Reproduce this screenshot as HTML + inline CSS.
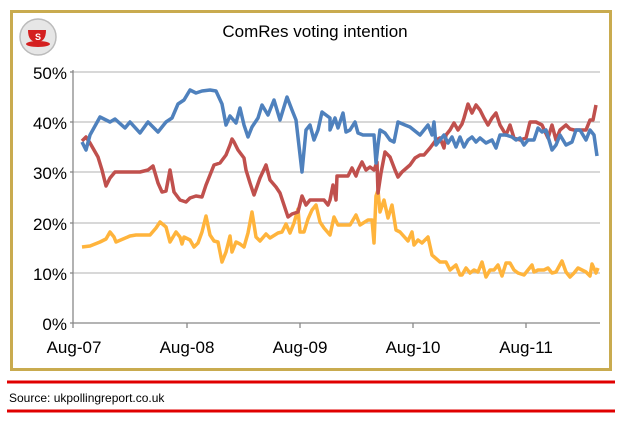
<!DOCTYPE html>
<html><head><style>
body{margin:0;background:#fff;width:620px;height:421px;overflow:hidden;font-family:"Liberation Sans",sans-serif}
</style></head><body>
<svg width="620" height="421" xmlns="http://www.w3.org/2000/svg" font-family="Liberation Sans, sans-serif">
<rect x="11.5" y="11.5" width="599" height="358" fill="#fff" stroke="#C9AB4F" stroke-width="3"/>
<line x1="7" y1="382" x2="615" y2="382" stroke="#E00000" stroke-width="3"/>
<line x1="7" y1="411" x2="615" y2="411" stroke="#E00000" stroke-width="3"/>
<text x="9" y="402" font-size="12" fill="#000">Source: ukpollingreport.co.uk</text>
<circle cx="38" cy="37" r="18" fill="#e6e6e6" stroke="#bbb" stroke-width="1.5"/>
<path d="M28 30 h18 q0 12 -9 12 q-9 0 -9 -12z" fill="#D42020"/>
<ellipse cx="38" cy="44" rx="12" ry="3" fill="#D42020"/>
<text x="38" y="40" font-size="9" fill="#fff" text-anchor="middle" font-weight="bold">S</text>
<text x="315" y="37" font-size="17" text-anchor="middle" fill="#000">ComRes voting intention</text>
<g stroke="#C0C0C0" stroke-width="1.3">
<line x1="73" y1="72" x2="600" y2="72"/><line x1="73" y1="122" x2="600" y2="122"/>
<line x1="73" y1="172" x2="600" y2="172"/><line x1="73" y1="223" x2="600" y2="223"/>
<line x1="73" y1="273" x2="600" y2="273"/></g>
<g stroke="#888" stroke-width="1.3">
<line x1="70" y1="323" x2="600" y2="323"/><line x1="73" y1="70" x2="73" y2="328"/>
<line x1="187" y1="323" x2="187" y2="328"/><line x1="300" y1="323" x2="300" y2="328"/>
<line x1="413" y1="323" x2="413" y2="328"/><line x1="526" y1="323" x2="526" y2="328"/>
<line x1="70" y1="72" x2="73" y2="72"/><line x1="70" y1="122" x2="73" y2="122"/><line x1="70" y1="172" x2="73" y2="172"/><line x1="70" y1="223" x2="73" y2="223"/><line x1="70" y1="273" x2="73" y2="273"/></g>
<g font-size="17" text-anchor="end" fill="#000">
<text x="67" y="79">50%</text><text x="67" y="129">40%</text><text x="67" y="179">30%</text><text x="67" y="230">20%</text><text x="67" y="280">10%</text><text x="67" y="330">0%</text></g>
<g font-size="17" text-anchor="middle" fill="#000">
<text x="74" y="353">Aug-07</text><text x="187" y="353">Aug-08</text><text x="300" y="353">Aug-09</text><text x="413" y="353">Aug-10</text><text x="526" y="353">Aug-11</text></g>
<g fill="none" stroke-width="3.5" stroke-linejoin="round">
<polyline stroke="#FFB43C" points="82,247 90,246 100,242 106,239 110,232 114,237 116,242 130,236 136,235 150,235 156,228 160,222 166,227 170,242 176,232 180,237 182,244 184,237 190,240 194,247 198,243 202,232 206,216 210,235 214,241 218,242 222,262 226,252 230,236 232,252 236,242 240,244 244,247 248,233 252,212 256,237 260,241 266,234 270,238 278,233 282,232 286,224 290,233 294,223 298,209 300,232 304,232 308,219 312,210 316,205 320,222 324,228 330,235 334,217 338,225 350,225 356,215 360,225 368,220 372,220 374,243 376,196 378,190 380,212 384,200 388,218 392,205 396,230 400,232 408,241 412,232 414,245 418,240 422,243 428,237 432,255 440,262 446,262 450,270 456,265 460,275 462,275 466,268 470,273 474,270 478,272 482,262 486,277 490,270 494,270 498,265 502,276 506,263 510,263 514,270 518,273 524,275 528,270 532,265 534,272 538,270 544,270 548,268 552,273 556,272 562,261 566,272 570,277 574,273 578,268 582,270 586,272 590,276 592,264 596,273 598,268"/>
<polyline stroke="#C0504D" points="82,141 86,137 90,143 94,150 98,157 102,170 106,186 110,178 115,172 140,172 148,170 153,166 158,183 162,192 166,191 170,170 174,192 180,200 186,202 190,198 196,196 202,197 206,185 210,175 214,165 220,163 226,155 230,145 232,139 234,142 238,150 244,158 246,170 250,183 254,195 260,178 266,165 270,180 276,187 280,193 284,205 288,217 292,214 298,212 302,196 306,205 310,200 324,200 328,205 330,200 333,185 336,200 337,176 348,176 352,168 356,176 358,170 362,162 366,170 370,167 374,170 377,162 378,193 381,173 385,152 390,157 395,170 398,177 402,172 410,165 415,158 420,155 424,155 430,148 436,140 440,138 444,148 446,135 450,130 454,123 458,130 462,124 464,118 468,104 472,113 476,105 480,110 484,118 488,125 492,118 496,113 500,125 506,135 510,125 514,138 520,140 526,138 530,122 536,122 542,125 548,138 552,125 556,140 560,130 566,125 570,129 574,130 586,130 590,120 593,120 596,105"/>
<polyline stroke="#4F81BD" points="82,142 86,150 90,135 100,117 110,122 115,119 125,128 130,122 140,133 148,122 158,132 166,122 172,118 178,104 184,100 190,90 196,93 202,91 210,90 216,91 222,104 226,125 230,116 236,123 240,108 244,125 248,137 252,127 258,118 262,105 268,115 274,100 280,120 287,97 292,110 296,120 302,172 306,130 310,125 314,140 318,130 322,112 330,118 330,130 335,118 338,128 343,113 346,132 350,130 355,122 358,133 363,135 374,135 376,163 378,145 380,130 385,133 390,140 394,142 398,122 405,125 410,127 420,135 424,130 428,125 432,135 434,122 436,145 440,140 444,135 448,143 452,137 456,147 460,137 464,147 468,140 472,137 476,142 480,138 486,143 492,140 496,148 500,135 506,135 512,137 516,140 520,138 524,145 528,140 534,140 538,128 542,132 546,130 552,150 556,145 560,135 566,145 572,142 576,130 580,130 586,140 590,130 594,135 597,156"/>
</g>
</svg>
</body></html>
